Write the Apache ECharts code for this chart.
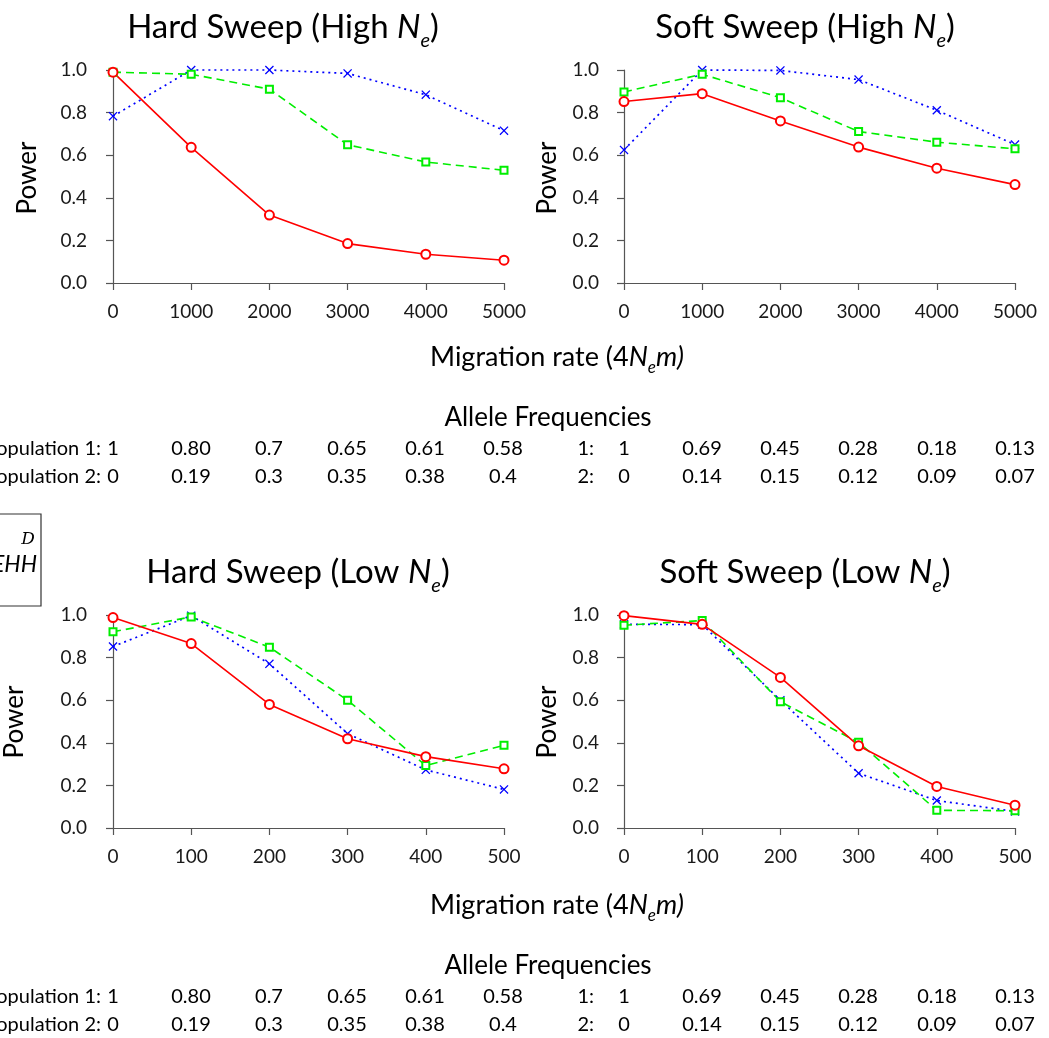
<!DOCTYPE html>
<html>
<head>
<meta charset="utf-8">
<script src="https://cdn.jsdelivr.net/npm/echarts@6/dist/echarts.min.js"></script>
<style>
  html, body { margin: 0; padding: 0; background: #fff; }
  #main { width: 1049px; height: 1038px; }
</style>
</head>
<body>
<div id="main"></div>
<script>
// x values (migration rate)
var highX = [0, 1000, 2000, 3000, 4000, 5000];
var lowX = [0, 100, 200, 300, 400, 500];

// power
var hardHighRed = [0.99, 0.637, 0.319, 0.185, 0.135, 0.107];
var hardHighGreen = [0.99, 0.98, 0.91, 0.649, 0.568, 0.529];
var hardHighBlue = [0.783, 1.0, 1.0, 0.984, 0.884, 0.715];

var softHighRed = [0.852, 0.889, 0.761, 0.638, 0.539, 0.462];
var softHighGreen = [0.897, 0.98, 0.87, 0.711, 0.661, 0.63];
var softHighBlue = [0.625, 1.0, 0.998, 0.955, 0.811, 0.65];

var hardLowRed = [0.988, 0.866, 0.58, 0.419, 0.335, 0.278];
var hardLowGreen = [0.921, 0.991, 0.849, 0.6, 0.293, 0.388];
var hardLowBlue = [0.852, 0.997, 0.771, 0.443, 0.273, 0.181];

var softLowRed = [0.997, 0.956, 0.707, 0.386, 0.195, 0.107];
var softLowGreen = [0.952, 0.974, 0.593, 0.402, 0.083, 0.081];
var softLowBlue = [0.956, 0.955, 0.6, 0.257, 0.129, 0.078];

// allele frequency table
var hardPop1 = ["1", "0.80", "0.7", "0.65", "0.61", "0.58"];
var hardPop2 = ["0", "0.19", "0.3", "0.35", "0.38", "0.4"];
var softPop1 = ["1", "0.69", "0.45", "0.28", "0.18", "0.13"];
var softPop2 = ["0", "0.14", "0.15", "0.12", "0.09", "0.07"];

var FONT = "Lato, 'Open Sans', sans-serif";
var RED = "#ff0000", GREEN = "#00ee00", BLUE = "#0000ff";

var chart = echarts.init(document.getElementById("main"), null, { renderer: "canvas" });

var panels = [
  { left: 113, top: 70, xs: highX, max: 5000, step: 1000, yOff: 16, red: hardHighRed, green: hardHighGreen, blue: hardHighBlue },
  { left: 624, top: 70, xs: highX, max: 5000, step: 1000, yOff: 15, red: softHighRed, green: softHighGreen, blue: softHighBlue },
  { left: 113, top: 615, xs: lowX, max: 500, step: 100, yOff: 16, red: hardLowRed, green: hardLowGreen, blue: hardLowBlue },
  { left: 624, top: 615, xs: lowX, max: 500, step: 100, yOff: 15, red: softLowRed, green: softLowGreen, blue: softLowBlue }
];

function pairs(xs, ys) {
  return xs.map(function (x, i) { return [x, ys[i]]; });
}

var axisLineStyle = { color: "#555", width: 1.2 };
var grids = [], xAxes = [], yAxes = [], series = [];
// thin "x" marker
var crossPath = "path://M1,0 L5,4 L9,0 L10,1 L6,5 L10,9 L9,10 L5,6 L1,10 L0,9 L4,5 L0,1 Z";

panels.forEach(function (p, i) {
  grids.push({ left: p.left, top: p.top, width: 391, height: 213 });
  xAxes.push({
    gridIndex: i, type: "value", min: 0, max: p.max, interval: p.step, offset: 11,
    axisLine: { lineStyle: axisLineStyle },
    axisTick: { length: 7, lineStyle: axisLineStyle },
    axisLabel: { color: "#1a1a1a", fontSize: 19, fontFamily: FONT, margin: 8, formatter: function (v) { return String(v); } },
    splitLine: { show: false }
  });
  yAxes.push({
    gridIndex: i, type: "value", min: 0, max: 1, interval: 0.2, offset: p.yOff,
    axisLine: { show: true, lineStyle: axisLineStyle },
    axisTick: { show: true, length: 7, lineStyle: axisLineStyle },
    axisLabel: { color: "#1a1a1a", fontSize: 19, fontFamily: FONT, margin: 10, formatter: function (v) { return v.toFixed(1); } },
    splitLine: { show: false }
  });
  series.push({
    type: "line", xAxisIndex: i, yAxisIndex: i, data: pairs(p.xs, p.blue), clip: false,
    symbol: crossPath, symbolSize: 9,
    lineStyle: { color: BLUE, width: 1.7, type: [2, 4] },
    itemStyle: { color: BLUE }
  });
  series.push({
    type: "line", xAxisIndex: i, yAxisIndex: i, data: pairs(p.xs, p.green), clip: false,
    symbol: "emptyRect", symbolSize: 7,
    lineStyle: { color: GREEN, width: 1.6, type: [8, 5] },
    itemStyle: { color: GREEN, borderWidth: 1.2 }
  });
  series.push({
    type: "line", xAxisIndex: i, yAxisIndex: i, data: pairs(p.xs, p.red), clip: false,
    symbol: "emptyCircle", symbolSize: 9,
    lineStyle: { color: RED, width: 1.6 },
    itemStyle: { color: RED, borderWidth: 1.2 }
  });
});

// subscripts pushed down with top padding
var rich = {
  t: { fontFamily: FONT, fontSize: 33, lineHeight: 42, fill: "#000" },
  i: { fontFamily: FONT, fontSize: 33, lineHeight: 42, fontStyle: "italic", fill: "#000" },
  s: { fontFamily: FONT, fontSize: 20, lineHeight: 12, padding: [28, 0, 0, 0], fontStyle: "italic", fill: "#000" }
};
var richMid = {
  t: { fontFamily: FONT, fontSize: 27, lineHeight: 34, fill: "#000" },
  i: { fontFamily: FONT, fontSize: 27, lineHeight: 34, fontStyle: "italic", fill: "#000" },
  s: { fontFamily: FONT, fontSize: 17, lineHeight: 10, padding: [22, 0, 0, 0], fontStyle: "italic", fill: "#000" }
};

function label(x, y, text, size, opts) {
  opts = opts || {};
  return {
    type: "text", x: x, y: y, rotation: opts.rotation || 0,
    style: {
      text: text, fontFamily: opts.family || FONT, fontSize: size, fill: "#000",
      align: opts.align || "center", verticalAlign: "middle",
      fontStyle: opts.italic ? "italic" : "normal"
    }
  };
}

var titles = [
  { x: 283, y: 27, name: "Hard Sweep (High " },
  { x: 805, y: 27, name: "Soft Sweep (High " },
  { x: 298, y: 572, name: "Hard Sweep (Low " },
  { x: 805, y: 572, name: "Soft Sweep (Low " }
];

var graphics = [];
titles.forEach(function (t) {
  graphics.push({
    type: "text", x: t.x, y: t.y,
    style: { text: "{t|" + t.name + "}{i|N}{s|e}{t|)}", rich: rich, align: "center", verticalAlign: "middle" }
  });
});

// "Power" axis titles
[[28, 178], [548, 178], [15, 722], [548, 722]].forEach(function (c) {
  graphics.push(label(c[0], c[1], "Power", 26, { rotation: Math.PI / 2 }));
});

// shared x-axis titles and allele-frequency tables
var tickX = [113, 191, 269, 347, 425, 503];
var tickX2 = [624, 702, 780, 858, 937, 1015];
[0, 548].forEach(function (dy) {
  graphics.push({
    type: "text", x: 557, y: 357 + dy,
    style: { text: "{t|Migration rate (4}{i|N}{s|e}{i|m)}", rich: richMid, align: "center", verticalAlign: "middle" }
  });
  graphics.push(label(548, 418 + dy, "Allele Frequencies", 26));
  graphics.push(label(101, 449 + dy, "Population 1:", 20, { align: "right" }));
  graphics.push(label(101, 477 + dy, "Population 2:", 20, { align: "right" }));
  graphics.push(label(594, 449 + dy, "1:", 20, { align: "right" }));
  graphics.push(label(594, 477 + dy, "2:", 20, { align: "right" }));
  hardPop1.forEach(function (v, k) { graphics.push(label(tickX[k], 449 + dy, v, 20)); });
  hardPop2.forEach(function (v, k) { graphics.push(label(tickX[k], 477 + dy, v, 20)); });
  softPop1.forEach(function (v, k) { graphics.push(label(tickX2[k], 449 + dy, v, 20)); });
  softPop2.forEach(function (v, k) { graphics.push(label(tickX2[k], 477 + dy, v, 20)); });
});

// clipped legend box on the left edge
graphics.push({
  type: "rect", shape: { x: -10, y: 514, width: 51, height: 92 },
  style: { fill: "none", stroke: "#333", lineWidth: 1.2 }
});
graphics.push(label(28, 540, "D", 17, { italic: true, family: "'DejaVu Serif', serif" }));
graphics.push(label(37, 565, "EHH", 23, { align: "right", italic: true }));

chart.setOption({
  animation: false,
  backgroundColor: "#fff",
  grid: grids,
  xAxis: xAxes,
  yAxis: yAxes,
  series: series,
  graphic: graphics
});
</script>
</body>
</html>
